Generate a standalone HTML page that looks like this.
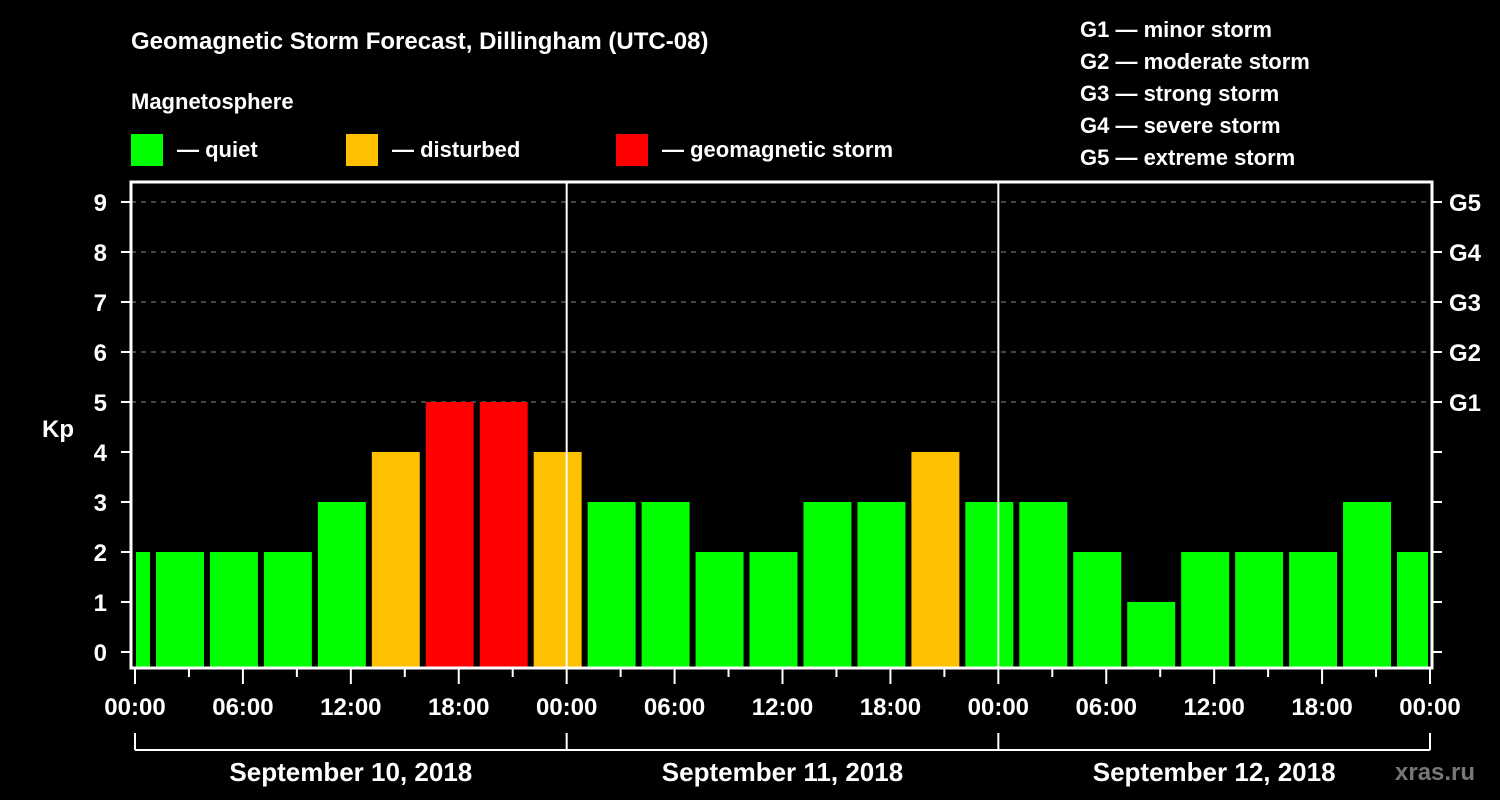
<!DOCTYPE html>
<html><head><meta charset="utf-8"><style>
html,body{margin:0;padding:0;background:#000;}
svg{display:block;font-family:"Liberation Sans",sans-serif;font-weight:bold;}
</style></head><body>
<svg id="chart" width="1500" height="800" viewBox="0 0 1500 800">
<text x="131" y="49" fill="#fff" font-size="24">Geomagnetic Storm Forecast, Dillingham (UTC-08)</text>
<text x="131" y="109" fill="#fff" font-size="22">Magnetosphere</text>
<g>
<rect x="131" y="134" width="32" height="32" fill="#00ff00"/>
<text x="177" y="157" fill="#fff" font-size="22">— quiet</text>
<rect x="346" y="134" width="32" height="32" fill="#ffc000"/>
<text x="392" y="157" fill="#fff" font-size="22">— disturbed</text>
<rect x="616" y="134" width="32" height="32" fill="#ff0000"/>
<text x="662" y="157" fill="#fff" font-size="22">— geomagnetic storm</text>
</g>
<g fill="#fff" font-size="22">
<text x="1080" y="37">G1 — minor storm</text>
<text x="1080" y="69">G2 — moderate storm</text>
<text x="1080" y="101">G3 — strong storm</text>
<text x="1080" y="133">G4 — severe storm</text>
<text x="1080" y="165">G5 — extreme storm</text>
</g>
<text x="42" y="437" fill="#fff" font-size="24">Kp</text>
<g id="grid"></g>
<g id="bars"></g>
<g id="axes"></g>
<text x="1395" y="780" fill="#777" font-size="24">xras.ru</text>
</svg>
<script>
const kpValues = [2,2,2,2,3,4,5,5,4,3,3,2,2,3,3,4,3,3,2,1,2,2,2,3,2];
const yTicks = [0,1,2,3,4,5,6,7,8,9];
const gLabels = ["G1","G2","G3","G4","G5"];
const xTickLabels = ["00:00","06:00","12:00","18:00","00:00","06:00","12:00","18:00","00:00","06:00","12:00","18:00","00:00"];
const dayLabels = ["September 10, 2018","September 11, 2018","September 12, 2018"];

const NS="http://www.w3.org/2000/svg";
const X0=135, X1=1430, H=72, Y0=652, YU=50;
const L=131,R=1432,T=182,B=668;
function x(h){return X0+(X1-X0)*h/H;}
function y(v){return Y0-v*YU;}
function mk(tag,attrs,parent){const e=document.createElementNS(NS,tag);for(const k in attrs)e.setAttribute(k,attrs[k]);parent.appendChild(e);return e;}
const grid=document.getElementById('grid'),bars=document.getElementById('bars'),axes=document.getElementById('axes');

// gridlines at 5..9
for(let v=5;v<=9;v++){
  const g=mk('line',{x1:L,x2:R,y1:y(v),y2:y(v),stroke:'#888','stroke-width':1,'stroke-dasharray':'5,5'},grid);
  
  
}
// bars
kpValues.forEach((v,i)=>{
  const s=-2+3*i, e=1+3*i;
  let xa=s<0?x(0)+1:x(s)+3;
  let xb=e>H?x(H)-2:x(e)-3;
  const col=v>=5?'#ff0000':(v>=4?'#ffc000':'#00ff00');
  const r=mk('rect',{x:xa,y:y(v),width:xb-xa,height:B-y(v),fill:col},bars);
  
  
});
// frame
const f=mk('rect',{x:L,y:T,width:R-L,height:B-T,fill:'none',stroke:'#fff','stroke-width':3},axes);


// day separators
[24,48].forEach(h=>{
  const l=mk('line',{x1:x(h),x2:x(h),y1:T,y2:B,stroke:'#fff','stroke-width':2},axes);
  
  
});
// y ticks
yTicks.forEach(v=>{
  mk('line',{x1:L-10,x2:L,y1:y(v),y2:y(v),stroke:'#fff','stroke-width':2},axes);
  mk('line',{x1:R,x2:R+10,y1:y(v),y2:y(v),stroke:'#fff','stroke-width':2},axes);
  const t=mk('text',{x:L-24,y:y(v)+9,fill:'#fff','font-size':24,'text-anchor':'end'},axes);
  t.textContent=v;
  
  
});
gLabels.forEach((g,i)=>{
  const t=mk('text',{x:1449,y:y(5+i)+9,fill:'#fff','font-size':24},axes);
  t.textContent=g;
  
  
});
// x ticks
for(let h=0;h<=H;h+=3){
  const major=h%6===0;
  mk('line',{x1:x(h),x2:x(h),y1:B,y2:B+(major?16:9),stroke:'#fff','stroke-width':2},axes);
}
xTickLabels.forEach((lab,i)=>{
  const t=mk('text',{x:x(i*6),y:715,fill:'#fff','font-size':24,'text-anchor':'middle'},axes);
  t.textContent=lab;
  
  
});
// day brackets
mk('line',{x1:x(0),x2:x(H),y1:750,y2:750,stroke:'#fff','stroke-width':2},axes);
[0,24,48,72].forEach(h=>mk('line',{x1:x(h),x2:x(h),y1:733,y2:750,stroke:'#fff','stroke-width':2},axes));
dayLabels.forEach((d,i)=>{
  const t=mk('text',{x:x(i*24+12),y:781,fill:'#fff','font-size':26,'text-anchor':'middle'},axes);
  t.textContent=d;
  
  
});
</script>
</body></html>
